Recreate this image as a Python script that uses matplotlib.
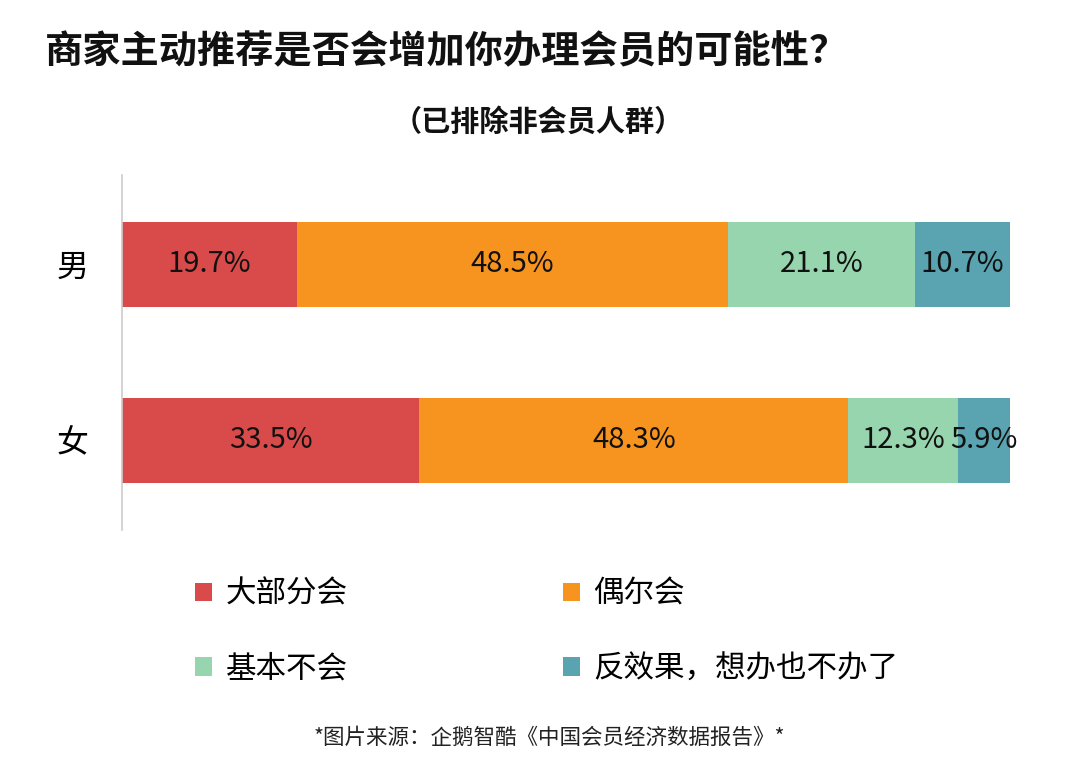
import matplotlib
matplotlib.use("Agg")
import matplotlib.pyplot as plt
import numpy as np

plt.rcParams['font.family'] = ['Noto Sans CJK SC', 'DejaVu Sans']

groups = ["男", "女"]
categories = ["大部分会", "偶尔会", "基本不会", "反效果，想办也不办了"]
values = {
    "大部分会": [19.7, 33.5],
    "偶尔会": [48.5, 48.3],
    "基本不会": [21.1, 12.3],
    "反效果，想办也不办了": [10.7, 5.9],
}
colors = ["#D94B4A", "#F7931F", "#96D5AE", "#5AA3B0"]

title = "商家主动推荐是否会增加你办理会员的可能性？"
subtitle = "（已排除非会员人群）"
source = "*图片来源：企鹅智酷《中国会员经济数据报告》*"

fig = plt.figure(figsize=(10.8, 7.75), dpi=100)
fig.patch.set_facecolor("white")
ax = fig.add_axes([122/1080, 1-530/775, (1010-122)/1080, (530-175)/775])

ypos = np.array([1, 0])
left = np.zeros(len(groups))
containers = []
for cat, col in zip(categories, colors):
    vals = np.array(values[cat])
    c = ax.barh(ypos, vals, left=left, height=0.483, color=col, edgecolor="none")
    ax.bar_label(c, labels=[f"{v}%" for v in vals], label_type="center",
                 fontsize=21, color="#111111")
    containers.append(c)
    left += vals

ax.set_xlim(0, 100)
ax.set_ylim(-0.51, 1.506)
ax.set_yticks(ypos)
ax.set_yticklabels(groups, fontsize=23)
ax.tick_params(axis="y", length=0, pad=24)
ax.set_xticks([])
for s in ["top", "right", "bottom"]:
    ax.spines[s].set_visible(False)
ax.spines["left"].set_color("#CCCCCC")
ax.spines["left"].set_linewidth(1.2)
ax.set_facecolor("none")

fig.text(45/1080, 1-52/775, title, fontsize=27.5, fontweight="heavy",
         ha="left", va="center", color="#111111")
fig.text(538/1080, 1-122/775, subtitle, fontsize=21, fontweight="heavy",
         ha="center", va="center", color="#111111")
fig.text(549/1080, 1-738/775, source, fontsize=15.5, ha="center", va="center",
         color="#222222")

order = [0, 2, 1, 3]
leg = fig.legend([containers[i] for i in order], [categories[i] for i in order],
                 ncol=2, loc="upper left", bbox_to_anchor=(195/1080, 1-579/775),
                 frameon=False, fontsize=22, handlelength=0.55, handleheight=0.55,
                 handletextpad=0.45, columnspacing=7.05, labelspacing=1.42,
                 borderpad=0, borderaxespad=0)

fig.savefig("out.png", dpi=100, facecolor="white")
